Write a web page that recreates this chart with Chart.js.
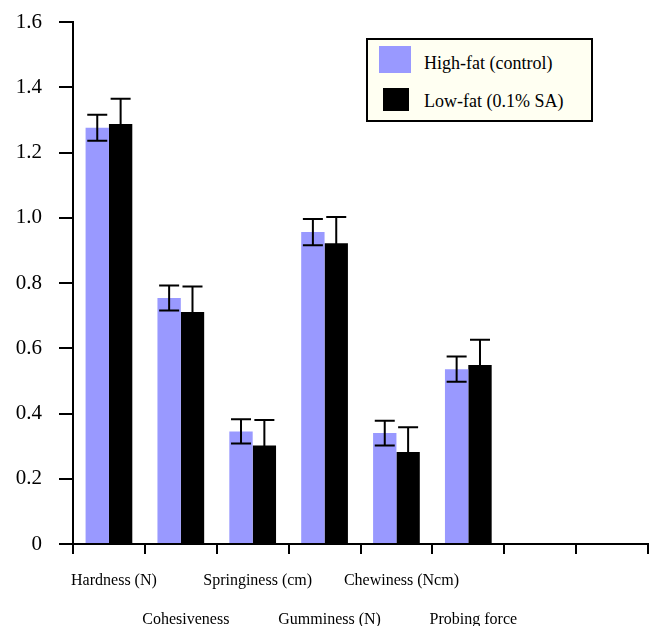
<!DOCTYPE html>
<html>
<head>
<meta charset="utf-8">
<script src="https://cdn.jsdelivr.net/npm/chart.js@4"></script>
<style>
  html, body { margin: 0; padding: 0; background: #fff; }
  #wrap { position: relative; width: 649px; height: 626px; }
  #legend { position: absolute; left: 366px; top: 38px; width: 227px; height: 84px; box-sizing: border-box;
            border: 2px solid #000; background: #FFFFF2; font-family: "Liberation Serif", serif; font-size: 18px; color: #000; }
  .sw { position: absolute; }
  .lt { position: absolute; left: 56px; line-height: 20px; white-space: nowrap; }
</style>
</head>
<body>
<div id="wrap">
  <canvas id="c" width="649" height="626"></canvas>
  <div id="legend">
    <div class="sw" style="left:11px;top:6px;width:32px;height:27px;background:#9999FF"></div>
    <div class="lt" style="top:13px">High-fat (control)</div>
    <div class="sw" style="left:15px;top:48px;width:26px;height:23px;background:#000"></div>
    <div class="lt" style="top:51px">Low-fat (0.1% SA)</div>
  </div>
</div>
<script>
const categories = ["Hardness (N)", "Cohesiveness", "Springiness (cm)", "Gumminess (N)", "Chewiness (Ncm)", "Probing force", "", ""];
const highFat = [1.276, 0.754, 0.345, 0.956, 0.340, 0.536, null, null];
const highFatErr = [0.040, 0.038, 0.037, 0.040, 0.038, 0.039, null, null];
const lowFat = [1.287, 0.711, 0.302, 0.922, 0.282, 0.549, null, null];
const lowFatErr = [0.078, 0.078, 0.078, 0.080, 0.076, 0.077, null, null];
const yTicks = [0, 0.2, 0.4, 0.6, 0.8, 1.0, 1.2, 1.4, 1.6];

// staggered two-row category labels
const labels = categories.map((c, i) => (i % 2 === 0 ? [c, ""] : ["", c]));

const errors = [highFatErr, lowFatErr];
const values = [highFat, lowFat];

const errorBarPlugin = {
  id: "errorBars",
  afterDatasetsDraw(chart) {
    const ctx = chart.ctx;
    const y = chart.scales.y;
    ctx.save();
    ctx.strokeStyle = "#000";
    ctx.lineWidth = 2;
    chart.data.datasets.forEach((ds, di) => {
      const meta = chart.getDatasetMeta(di);
      meta.data.forEach((bar, j) => {
        const v = values[di][j], e = errors[di][j];
        if (v == null || e == null) return;
        const x = bar.x;
        const yt = y.getPixelForValue(v + e);
        const yb = y.getPixelForValue(v - e);
        ctx.beginPath();
        ctx.moveTo(x, yt); ctx.lineTo(x, yb);
        ctx.moveTo(x - 10, yt); ctx.lineTo(x + 10, yt);
        ctx.moveTo(x - 10, yb); ctx.lineTo(x + 10, yb);
        ctx.stroke();
      });
    });
    ctx.restore();
  }
};

new Chart(document.getElementById("c"), {
  type: "bar",
  data: {
    labels: labels,
    datasets: [
      { label: "High-fat (control)", data: highFat, backgroundColor: "#9999FF", borderWidth: 0 },
      { label: "Low-fat (0.1% SA)", data: lowFat, backgroundColor: "#000000", borderWidth: 0 }
    ]
  },
  options: {
    responsive: false,
    animation: false,
    events: [],
    layout: { padding: { top: 22, right: 1, left: 0, bottom: 0 } },
    plugins: { legend: { display: false }, tooltip: { enabled: false } },
    datasets: { bar: { categoryPercentage: 0.65, barPercentage: 1.0 } },
    scales: {
      x: {
        offset: true,
        grid: { display: true, offset: true, drawOnChartArea: false, drawTicks: true, tickLength: 10, color: "#000", lineWidth: 2 },
        border: { display: true, color: "#000", width: 2 },
        ticks: {
          color: "#000",
          maxRotation: 0, minRotation: 0, autoSkip: false,
          padding: 8,
          labelOffset: 5,
          font: { family: "'Liberation Serif', serif", size: 16, lineHeight: 2.4 }
        },
        afterFit(scale) { scale.height = 82; scale.paddingTop = 0; scale.paddingBottom = 0; }
      },
      y: {
        min: 0, max: 1.6,
        afterBuildTicks(scale) { scale.ticks = yTicks.map(v => ({ value: v })); },
        grid: { display: true, drawOnChartArea: false, drawTicks: true, tickLength: 14, color: "#000", lineWidth: 2 },
        border: { display: true, color: "#000", width: 2 },
        ticks: {
          color: "#000",
          padding: 17,
          font: { family: "'Liberation Serif', serif", size: 21 },
          callback: (v) => (v === 0 ? "0" : Number(v).toFixed(1))
        },
        afterFit(scale) { scale.width = 73; scale.paddingTop = 0; scale.paddingBottom = 0; }
      }
    }
  },
  plugins: [errorBarPlugin]
});
</script>
</body>
</html>
